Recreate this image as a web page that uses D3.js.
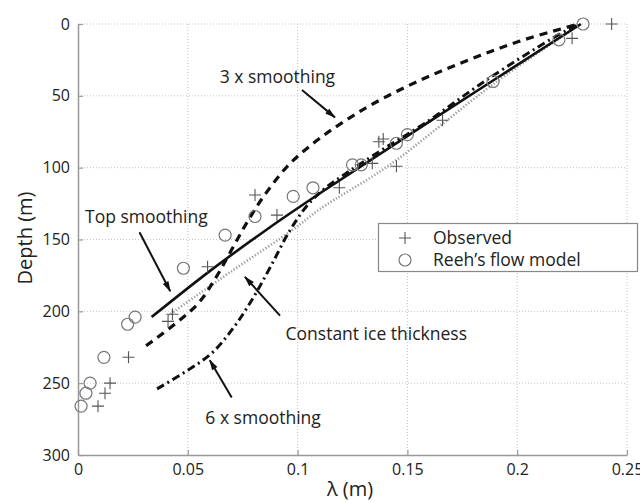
<!DOCTYPE html>
<html>
<head>
<meta charset="utf-8">
<script src="https://cdnjs.cloudflare.com/ajax/libs/d3/7.8.5/d3.min.js"></script>
<style>
  html, body { margin: 0; padding: 0; background: #fff; }
  svg { display: block; }
  text { font-family: "Open Sans", "Noto Sans", sans-serif; fill: #222; }
</style>
</head>
<body>
<svg id="chart" width="640" height="502"></svg>
<script>
// ---------- data (lambda in m, depth in m) ----------
const xTicks = [0, 0.05, 0.1, 0.15, 0.2, 0.25];
const xTickLabels = ["0", "0.05", "0.1", "0.15", "0.2", "0.25"];
const yTicks = [0, 50, 100, 150, 200, 250, 300];
const yTickLabels = ["0", "50", "100", "150", "200", "250", "300"];

const observedLambda = [0.243, 0.225, 0.166, 0.137, 0.139, 0.134, 0.145, 0.119, 0.0806, 0.0906, 0.059, 0.043, 0.041, 0.023, 0.0146, 0.0123, 0.0091];
const observedDepth  = [0,     10,    67,    82,    80,    97,    99,    114,   119,    133,    169,   202,   207,   232,   250,    257,    266];

const reehLambda = [0.230, 0.219, 0.189, 0.145, 0.150, 0.125, 0.129, 0.107, 0.098, 0.0806, 0.067, 0.048, 0.026, 0.0226, 0.0118, 0.0055, 0.0036, 0.0014];
const reehDepth  = [0,     11,    40,    83,    77,    98,    98,    114,   120,   134,    147,   170,   204,   209,    232,    250,    257,    266];

const topSmoothLambda = [0.0335, 0.060, 0.086, 0.110, 0.160, 0.229];
const topSmoothDepth  = [204,    172,   143,   118,   68,    0];

const smooth3Lambda = [0.031, 0.044, 0.055, 0.063, 0.070, 0.077, 0.085, 0.096, 0.108, 0.120, 0.135, 0.156, 0.178, 0.201, 0.228];
const smooth3Depth  = [224,   209,   194,   176,   157,   138,   119,   98,    82,    69,    55,    39,    25,    12,    0];

const constIceLambda = [0.041, 0.070, 0.098, 0.110, 0.142, 0.189, 0.229];
const constIceDepth  = [203,   172,   143,   129,   98,    42,    0];

const smooth6Lambda = [0.036, 0.050, 0.061, 0.071, 0.080, 0.088, 0.096, 0.104, 0.112, 0.122, 0.138, 0.158, 0.186, 0.216, 0.228];
const smooth6Depth  = [254,   241,   229,   211,   190,   168,   145,   127,   115,   104,   88,    69,    39,    10,    0];

// annotations: label, text position (data), arrow tail & tip (data)
const annotations = [
  { label: "3 x smoothing",          tx: 0.0645, ty: 37,  ax1: 0.102, ay1: 46,  ax2: 0.117, ay2: 65 },
  { label: "Top smoothing",          tx: 0.0032, ty: 134, ax1: 0.028, ay1: 145, ax2: 0.042, ay2: 186 },
  { label: "Constant ice thickness", tx: 0.0945, ty: 216, ax1: 0.092, ay1: 203, ax2: 0.076, ay2: 176 },
  { label: "6 x smoothing",          tx: 0.058,  ty: 274, ax1: 0.070, ay1: 260, ax2: 0.060, ay2: 234 }
];

const legendItems = [
  { label: "Observed", symbol: "plus" },
  { label: "Reeh\u2019s flow model", symbol: "circle" }
];

// ---------- layout ----------
const svg = d3.select("#chart");
const x = d3.scaleLinear().domain([0, 0.25]).range([78, 627]);
const y = d3.scaleLinear().domain([0, 300]).range([24, 455]);

// grid
const grid = svg.append("g");
grid.selectAll("line.gx").data(xTicks.slice(1)).join("line")
  .attr("x1", d => x(d)).attr("x2", d => x(d))
  .attr("y1", y(0)).attr("y2", y(300))
  .attr("stroke", "#c4c4c4").attr("stroke-width", 1).attr("stroke-dasharray", "1,2");
grid.selectAll("line.gy").data(yTicks.slice(0, -1)).join("line")
  .attr("x1", x(0)).attr("x2", x(0.25))
  .attr("y1", d => y(d)).attr("y2", d => y(d))
  .attr("stroke", "#c4c4c4").attr("stroke-width", 1).attr("stroke-dasharray", "1,2");

// axes
const xAxis = d3.axisBottom(x).tickValues(xTicks).tickFormat((d, i) => xTickLabels[i]).tickSizeInner(-5).tickSizeOuter(0).tickPadding(9);
const yAxis = d3.axisLeft(y).tickValues(yTicks).tickFormat((d, i) => yTickLabels[i]).tickSizeInner(-5).tickSizeOuter(0).tickPadding(8);
const gx = svg.append("g").attr("transform", `translate(0,${y(300)})`).call(xAxis);
const gy = svg.append("g").attr("transform", `translate(${x(0)},0)`).call(yAxis);
[gx, gy].forEach(g => {
  g.select(".domain").attr("stroke", "#999").attr("stroke-width", 1.5);
  g.selectAll(".tick line").attr("stroke", "#999").attr("stroke-width", 1.2);
  g.selectAll(".tick text").style("font-family", "'Open Sans', sans-serif").style("font-size", "16px").attr("fill", "#333");
});

// axis titles
svg.append("text").attr("x", 350).attr("y", 496).attr("text-anchor", "middle")
  .style("font-size", "20px").text("\u03bb (m)");
svg.append("text").attr("transform", "translate(32,238) rotate(-90)").attr("text-anchor", "middle")
  .style("font-size", "20px").text("Depth (m)");

// curves
const line = d3.line().x(d => x(d[0])).y(d => y(d[1])).curve(d3.curveCatmullRom.alpha(0.5));
const zip = (a, b) => a.map((v, i) => [v, b[i]]);

svg.append("path").datum(zip(constIceLambda, constIceDepth)).attr("d", line)
  .attr("fill", "none").attr("stroke", "#999").attr("stroke-width", 2.6).attr("stroke-dasharray", "1.2,2");
svg.append("path").datum(zip(smooth6Lambda, smooth6Depth)).attr("d", line)
  .attr("fill", "none").attr("stroke", "#111").attr("stroke-width", 3).attr("stroke-dasharray", "8,4,2,4");
svg.append("path").datum(zip(smooth3Lambda, smooth3Depth)).attr("d", line)
  .attr("fill", "none").attr("stroke", "#111").attr("stroke-width", 3.2).attr("stroke-dasharray", "8,6");
svg.append("path").datum(zip(topSmoothLambda, topSmoothDepth)).attr("d", line)
  .attr("fill", "none").attr("stroke", "#111").attr("stroke-width", 2.6);

// markers
const plusPath = s => `M${-s},0H${s}M0,${-s}V${s}`;
svg.append("g").selectAll("path").data(zip(observedLambda, observedDepth)).join("path")
  .attr("transform", d => `translate(${x(d[0])},${y(d[1])})`)
  .attr("d", plusPath(6)).attr("stroke", "#555").attr("stroke-width", 1.1).attr("fill", "none");
svg.append("g").selectAll("circle").data(zip(reehLambda, reehDepth)).join("circle")
  .attr("cx", d => x(d[0])).attr("cy", d => y(d[1])).attr("r", 6)
  .attr("stroke", "#777").attr("stroke-width", 1.2).attr("fill", "none");

// annotations
svg.append("defs").append("marker").attr("id", "ah").attr("viewBox", "0 0 12 10")
  .attr("refX", 11).attr("refY", 5).attr("markerWidth", 12).attr("markerHeight", 9)
  .attr("markerUnits", "userSpaceOnUse").attr("orient", "auto")
  .append("path").attr("d", "M0,1.5L12,5L0,8.5Z").attr("fill", "#111");
const ann = svg.append("g");
annotations.forEach(a => {
  ann.append("line").attr("x1", x(a.ax1)).attr("y1", y(a.ay1)).attr("x2", x(a.ax2)).attr("y2", y(a.ay2))
    .attr("stroke", "#111").attr("stroke-width", 2).attr("marker-end", "url(#ah)");
  ann.append("text").attr("x", x(a.tx)).attr("y", y(a.ty)).attr("dy", "0.35em")
    .style("font-size", "17.5px").text(a.label);
});

// legend
const lg = svg.append("g");
lg.append("rect").attr("x", 378.5).attr("y", 223.5).attr("width", 259).attr("height", 48)
  .attr("fill", "#fff").attr("stroke", "#888").attr("stroke-width", 1.2);
legendItems.forEach((it, i) => {
  const cy = 238 + i * 22;
  if (it.symbol === "plus") {
    lg.append("path").attr("transform", `translate(405,${cy})`).attr("d", plusPath(6))
      .attr("stroke", "#555").attr("stroke-width", 1.1);
  } else {
    lg.append("circle").attr("cx", 405).attr("cy", cy).attr("r", 6)
      .attr("stroke", "#777").attr("stroke-width", 1.2).attr("fill", "none");
  }
  lg.append("text").attr("x", 433).attr("y", cy).attr("dy", "0.35em").style("font-size", "17.5px").text(it.label);
});
</script>
</body>
</html>
